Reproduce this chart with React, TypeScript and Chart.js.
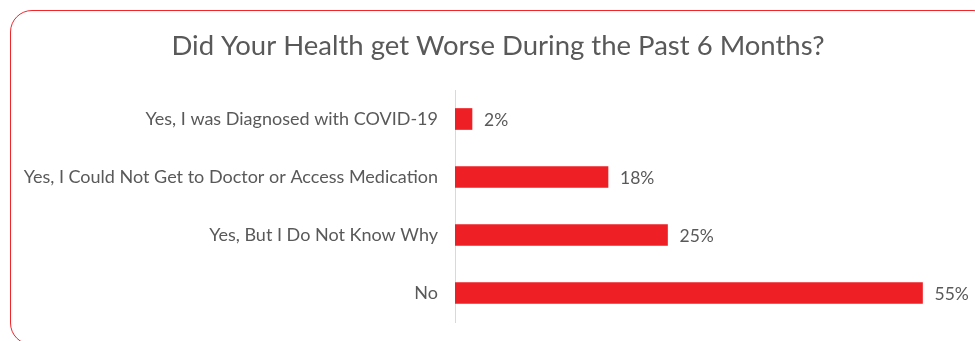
import React, { useEffect, useRef } from "react";
import { Chart, registerables } from "chart.js";

Chart.register(...registerables);

const TITLE = "Did Your Health get Worse During the Past 6 Months?";
const CATEGORIES = [
  "Yes, I was Diagnosed with COVID-19",
  "Yes, I Could Not Get to Doctor or Access Medication",
  "Yes, But I Do Not Know Why",
  "No",
];
const VALUES = [2, 18, 25, 55];
const X_MAX = 60;

const BAR_RED = "#ee1f25";
const TEXT_GRAY = "#595959";
const FONT = "Lato, 'Open Sans', sans-serif";

export default function App() {
  const ref = useRef<HTMLCanvasElement | null>(null);

  useEffect(() => {
    const canvas = ref.current;
    if (!canvas) return;

    const titlePlugin = {
      id: "customTitle",
      afterDraw(chart: any) {
        const ctx = chart.ctx;
        ctx.save();
        ctx.fillStyle = TEXT_GRAY;
        ctx.font = `27.5px ${FONT}`;
        ctx.textAlign = "center";
        ctx.textBaseline = "alphabetic";
        ctx.fillText(TITLE, 498, 55);
        ctx.restore();
      },
    };

    const labelPlugin = {
      id: "valueLabels",
      afterDatasetsDraw(chart: any) {
        const ctx = chart.ctx;
        const meta = chart.getDatasetMeta(0);
        ctx.save();
        ctx.fillStyle = TEXT_GRAY;
        ctx.font = `17.5px ${FONT}`;
        ctx.textAlign = "left";
        ctx.textBaseline = "middle";
        meta.data.forEach((bar: any, i: number) => {
          ctx.fillText(`${VALUES[i]}%`, bar.x + 12, bar.y + 1);
        });
        ctx.restore();
      },
    };

    const chart = new Chart(canvas, {
      type: "bar",
      data: {
        labels: CATEGORIES,
        datasets: [
          {
            data: VALUES,
            backgroundColor: BAR_RED,
            borderWidth: 0,
            barThickness: 21,
          },
        ],
      },
      options: {
        indexAxis: "y",
        responsive: false,
        animation: false,
        layout: { padding: { top: 90, bottom: 19, right: 10, left: 0 } },
        plugins: {
          legend: { display: false },
          title: { display: false },
          tooltip: { enabled: false },
        },
        scales: {
          x: {
            display: false,
            min: 0,
            max: X_MAX,
          },
          y: {
            afterFit(scale: any) {
              scale.width = 455;
              scale.paddingTop = 0;
              scale.paddingBottom = 0;
            },
            grid: { display: false, drawTicks: false },
            border: { display: true, color: "#d9d9d9", width: 1 },
            ticks: {
              color: TEXT_GRAY,
              font: { family: FONT, size: 18 },
              padding: 17,
            },
          },
        },
      },
      plugins: [titlePlugin, labelPlugin],
    });

    return () => chart.destroy();
  }, []);

  return (
    <div
      style={{
        position: "fixed",
        left: 0,
        top: 0,
        width: 975,
        height: 341,
        overflow: "hidden",
        background: "#ffffff",
      }}
    >
      <div
        style={{
          position: "absolute",
          left: 10,
          top: 10,
          width: 985,
          height: 335,
          border: "1.5px solid #f0262b",
          borderRadius: 22,
          boxSizing: "border-box",
        }}
      />
      <canvas
        ref={ref}
        width={975}
        height={341}
        style={{ position: "absolute", left: 0, top: 0, width: 975, height: 341 }}
      />
    </div>
  );
}
